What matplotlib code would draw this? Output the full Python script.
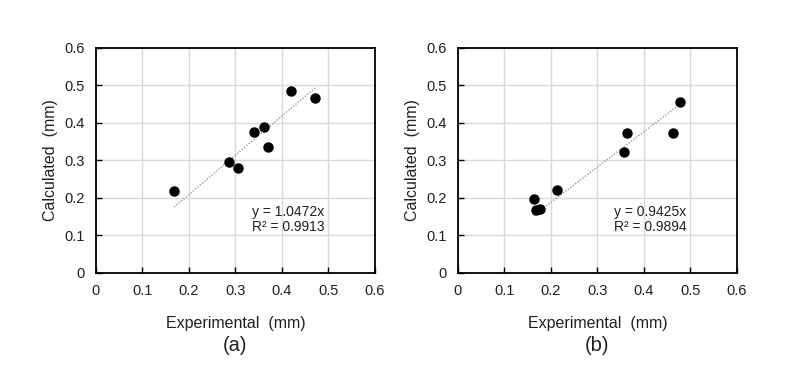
import numpy as np
import matplotlib.pyplot as plt

plt.rcParams['font.family'] = ['Liberation Sans', 'DejaVu Sans']

# panel (a)
exp_a = [0.168, 0.287, 0.305, 0.339, 0.361, 0.371, 0.420, 0.472]
calc_a = [0.218, 0.296, 0.279, 0.377, 0.388, 0.337, 0.485, 0.467]
slope_a = 1.0472
r2_a = 0.9913

# panel (b)
exp_b = [0.163, 0.167, 0.176, 0.212, 0.356, 0.364, 0.463, 0.477]
calc_b = [0.197, 0.167, 0.171, 0.222, 0.323, 0.372, 0.372, 0.455]
slope_b = 0.9425
r2_b = 0.9894

ticks = [0, 0.1, 0.2, 0.3, 0.4, 0.5, 0.6]
tick_labels = ['0', '0.1', '0.2', '0.3', '0.4', '0.5', '0.6']

txt = '#202020'

fig = plt.figure(figsize=(7.97, 3.90), dpi=100)

def panel(left, xs, ys, slope, r2, tag):
    ax = fig.add_axes([left, 0.30, 0.350, 0.577])
    ax.set_xlim(0, 0.6)
    ax.set_ylim(0, 0.6)
    ax.set_xticks(ticks)
    ax.set_yticks(ticks)
    ax.set_xticklabels(tick_labels, fontsize=10.5, color=txt)
    ax.set_yticklabels(tick_labels, fontsize=10.5, color=txt)
    ax.grid(True, color='#d9d9d9', lw=1)
    ax.set_axisbelow(True)
    ax.tick_params(direction='in', length=4, width=1, pad=8, color='black')
    for s in ax.spines.values():
        s.set_linewidth(1.3)
        s.set_color('black')

    xs = np.array(xs)
    xl = np.array([xs.min(), xs.max()])
    ax.plot(xl, slope * xl, ls=(0, (1, 1.2)), color='#999999', lw=1, zorder=2)
    ax.plot(xs, ys, 'o', color='black', ms=6.5, zorder=3)

    ax.text(0.335, 0.163, 'y = %.4fx' % slope, fontsize=10, va='center', ha='left', color=txt)
    ax.text(0.335, 0.123, 'R² = %.4f' % r2, fontsize=10, va='center', ha='left', color=txt)

    ax.set_xlabel('Experimental  (mm)', fontsize=11.5, labelpad=13, color=txt)
    ax.set_ylabel('Calculated  (mm)', fontsize=11.5, labelpad=5, color=txt)
    ax.text(0.5, -0.32, tag, fontsize=14.5, ha='center', va='center',
            transform=ax.transAxes, color=txt)

panel(96 / 797, exp_a, calc_a, slope_a, r2_a, '(a)')
panel(458 / 797, exp_b, calc_b, slope_b, r2_b, '(b)')

fig.savefig('out.png', dpi=100)
